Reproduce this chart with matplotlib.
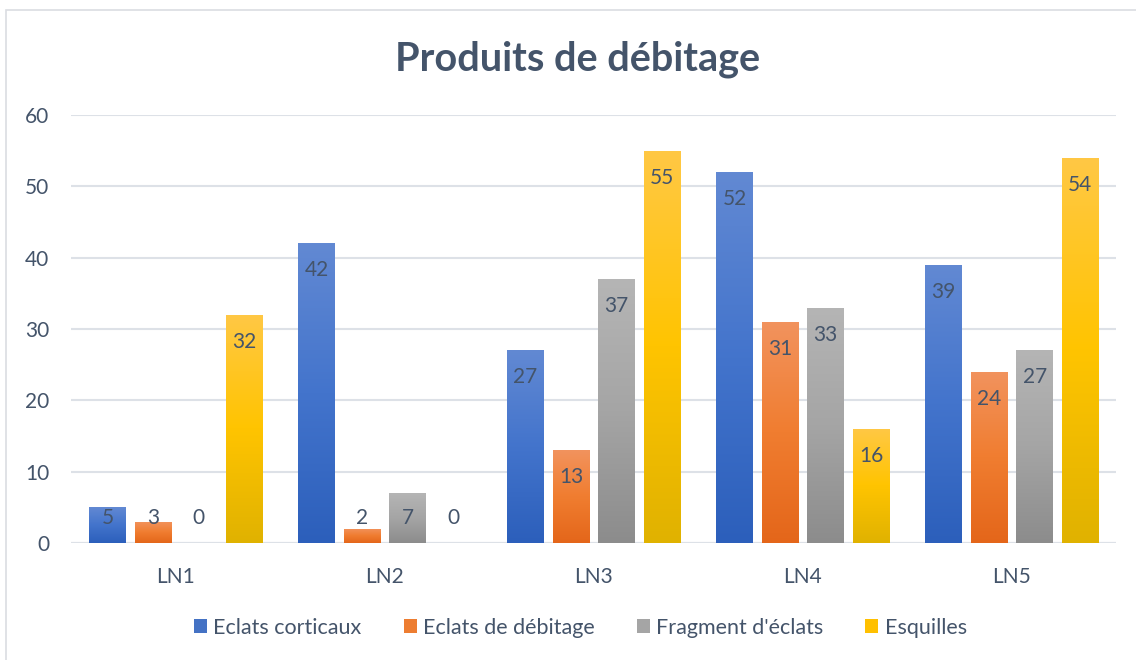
import matplotlib
matplotlib.use('Agg')
import matplotlib.pyplot as plt
import numpy as np
from matplotlib.colors import LinearSegmentedColormap
from matplotlib.patches import Patch, Rectangle

# Chart data
categories = ['LN1', 'LN2', 'LN3', 'LN4', 'LN5']
series_names = ['Eclats corticaux', 'Eclats de débitage', "Fragment d'éclats", 'Esquilles']
eclats_corticaux = [5, 42, 27, 52, 39]
eclats_debitage = [3, 2, 13, 31, 24]
fragment_eclats = [0, 7, 37, 33, 27]
esquilles = [32, 0, 55, 16, 54]

series_values = [eclats_corticaux, eclats_debitage, fragment_eclats, esquilles]
base_colors = ['#4472C4', '#ED7D31', '#A5A5A5', '#FFC000']
# gradient stops (bottom, middle, top) for each series
gradients = [
    ['#2C5FBB', '#4374CC', '#6289D3'],
    ['#E4661A', '#F07D30', '#F2935E'],
    ['#8C8C8C', '#A5A5A5', '#B5B5B5'],
    ['#E0B200', '#FFC400', '#FFC845'],
]

text_color = '#44546A'
grid_color = '#DDE1E7'

plt.rcParams['font.family'] = ['Lato', 'DejaVu Sans']

fig = plt.figure(figsize=(11.36, 6.6), dpi=100)
ax = fig.add_axes([0.0629, 0.1773, 0.9199, 0.6485])

# Chart frame (right and bottom edges fall outside the image)
fig.patches.append(Rectangle((6 / 1136, -0.05), 1.2, 0.05 + 650 / 660,
                             transform=fig.transFigure, fill=False,
                             edgecolor='#DADDE2', linewidth=1.2))

x = np.arange(len(categories))
step = 0.218
width = 0.177
grad = np.linspace(0, 1, 256).reshape(-1, 1)

for i, (name, vals, col) in enumerate(zip(series_names, series_values, base_colors)):
    offs = x + (i - 1.5) * step
    bars = ax.bar(offs, vals, width, color=col, label=name, zorder=2)
    cmap = LinearSegmentedColormap.from_list(name, gradients[i])
    for b, v in zip(bars, vals):
        x0 = b.get_x()
        if v > 0:
            im = ax.imshow(grad, cmap=cmap, origin='lower', aspect='auto',
                           extent=(x0, x0 + width, 0, v), zorder=3)
            im.set_clip_path(b)
        ax.text(x0 + width / 2, max(v - 3.8, 3.5), f'{v}',
                ha='center', va='center', fontsize=15, color=text_color,
                zorder=4)

ax.set_xlim(-0.5, len(categories) - 0.5)
ax.set_ylim(0, 60)
ax.set_yticks(range(0, 61, 10))
ax.set_xticks(x)
ax.set_xticklabels(categories)
ax.yaxis.grid(True, color=grid_color, linewidth=1.5, zorder=0)
ax.set_axisbelow(True)
for s in ax.spines.values():
    s.set_visible(False)
ax.axhline(0, color=grid_color, linewidth=1.5, zorder=1)
ax.tick_params(axis='both', length=0, labelsize=15, colors=text_color)
ax.tick_params(axis='y', pad=16)
ax.tick_params(axis='x', pad=17)

fig.text(0.508, 0.91, 'Produits de débitage', ha='center', va='center',
         fontsize=28.5, fontweight='bold', color=text_color)

handles = [Patch(facecolor=c, edgecolor='none') for c in base_colors]
leg = fig.legend(handles, series_names, loc='center', bbox_to_anchor=(0.511, 0.049),
                 ncol=4, frameon=False, fontsize=15.5, handlelength=0.6,
                 handleheight=0.6, handletextpad=0.3, columnspacing=1.95)
for t in leg.get_texts():
    t.set_color(text_color)

fig.savefig('out.png', dpi=100)
